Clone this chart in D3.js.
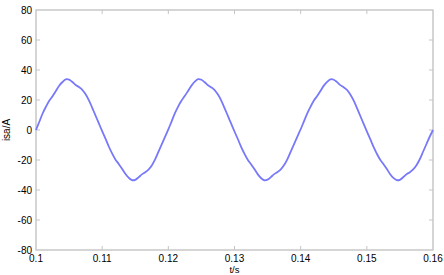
<!DOCTYPE html>
<html>
<head>
<meta charset="utf-8">
<script src="https://cdn.jsdelivr.net/npm/d3@7"></script>
<style>
  body { margin: 0; background: #fff; }
  svg text { font-family: "Liberation Sans", Arial, sans-serif; font-size: 10px; fill: #000; }
</style>
</head>
<body>
<div id="chart"></div>
<script>
// sampled current, one value every 0.5 ms starting at t = 0.1 s
const tStart = 0.1;
const tStep = 0.0005;
const isa = [
  0, 5.5, 11, 15.5, 19.5, 22.5, 26, 29.5, 32, 33.8,
  33.6, 32, 30, 28.6, 26.8, 23.8, 19.8, 14.8, 9.6, 4.4,
  -0.8, -5.8, -11, -15.6, -19.6, -22.6, -25.8, -29.2, -31.8, -33.4,
  -33.2, -31.6, -29.6, -28.2, -26.4, -23.6, -19.6, -14.6, -9.6, -4.6,
  0.4, 5.8, 11.2, 15.8, 19.6, 22.8, 26.2, 29.6, 32.2, 33.9,
  33.5, 31.8, 29.8, 28.4, 26.6, 23.6, 19.6, 14.6, 9.4, 4.2,
  -1, -6, -11.2, -15.8, -19.8, -22.8, -26, -29.4, -32, -33.5,
  -33.1, -31.4, -29.4, -28, -26.2, -23.4, -19.4, -14.4, -9.4, -4.4,
  0.5, 5.8, 11.1, 15.6, 19.6, 22.7, 26.1, 29.6, 32.1, 33.8,
  33.5, 31.9, 29.9, 28.5, 26.7, 23.7, 19.7, 14.7, 9.5, 4.3,
  -0.9, -5.9, -11.1, -15.7, -19.7, -22.7, -25.9, -29.3, -31.9, -33.4,
  -33.2, -31.5, -29.5, -28.1, -26.3, -23.5, -19.5, -14.5, -9.5, -4.5,
  0
];
const xTicks = [0.1, 0.11, 0.12, 0.13, 0.14, 0.15, 0.16];
const yTicks = [-80, -60, -40, -20, 0, 20, 40, 60, 80];

const W = 444, H = 275;
const margin = {top: 10, right: 11, bottom: 25, left: 36};
const width = W - margin.left - margin.right;
const height = H - margin.top - margin.bottom;

const svg = d3.select("#chart").append("svg")
  .attr("width", W).attr("height", H);
const g = svg.append("g")
  .attr("transform", `translate(${margin.left},${margin.top})`);

const x = d3.scaleLinear().domain([0.1, 0.16]).range([0, width]);
const y = d3.scaleLinear().domain([-80, 80]).range([height, 0]);

const data = isa.map((v, i) => ({t: tStart + i * tStep, v: v}));

// box
g.append("rect")
  .attr("width", width).attr("height", height)
  .attr("fill", "none").attr("stroke", "#c4c4c4").attr("stroke-width", 1.4);

// inside ticks on all four sides
const tickLen = 4;
const tickCol = "#c4c4c4";
g.append("g").selectAll("line").data(xTicks.slice(1, -1)).enter().append("line")
  .attr("x1", d => x(d)).attr("x2", d => x(d))
  .attr("y1", height).attr("y2", height - tickLen)
  .attr("stroke", tickCol);
g.append("g").selectAll("line").data(xTicks.slice(1, -1)).enter().append("line")
  .attr("x1", d => x(d)).attr("x2", d => x(d))
  .attr("y1", 0).attr("y2", tickLen)
  .attr("stroke", tickCol);
g.append("g").selectAll("line").data(yTicks.slice(1, -1)).enter().append("line")
  .attr("y1", d => y(d)).attr("y2", d => y(d))
  .attr("x1", 0).attr("x2", tickLen)
  .attr("stroke", tickCol);
g.append("g").selectAll("line").data(yTicks.slice(1, -1)).enter().append("line")
  .attr("y1", d => y(d)).attr("y2", d => y(d))
  .attr("x1", width).attr("x2", width - tickLen)
  .attr("stroke", tickCol);

// tick labels
g.append("g").selectAll("text").data(xTicks).enter().append("text")
  .attr("x", d => x(d)).attr("y", height + 12)
  .attr("text-anchor", "middle")
  .text(d => d);
g.append("g").selectAll("text").data(yTicks).enter().append("text")
  .attr("x", -4).attr("y", d => y(d)).attr("dy", "0.35em")
  .attr("text-anchor", "end")
  .text(d => d);

// axis titles
g.append("text")
  .attr("x", width / 2).attr("y", height + 23)
  .attr("text-anchor", "middle")
  .style("font-size", "9.5px")
  .text("t/s");
g.append("text")
  .attr("transform", `translate(${-26},${height / 2}) rotate(-90)`)
  .attr("text-anchor", "middle")
  .text("isa/A");

// waveform
const line = d3.line()
  .x(d => x(d.t))
  .y(d => y(d.v))
  .curve(d3.curveCatmullRom);
g.append("path")
  .datum(data)
  .attr("d", line)
  .attr("fill", "none")
  .attr("stroke", "#7878fa")
  .attr("stroke-width", 1.8);
</script>
</body>
</html>
